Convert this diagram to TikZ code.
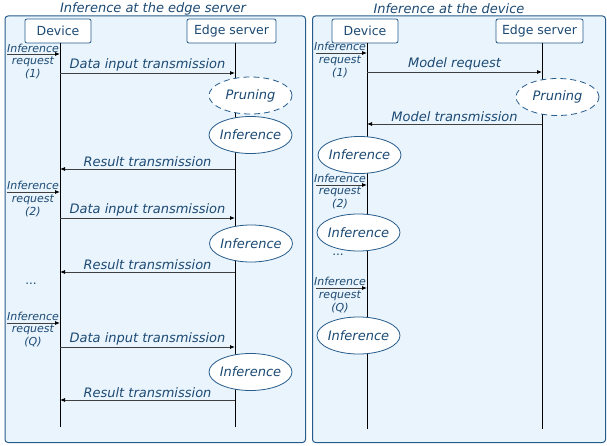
\documentclass[tikz,border=0pt]{standalone}
\usepackage{fontspec}
\setmainfont{DejaVu Sans}
\usetikzlibrary{shapes.geometric,arrows.meta}
\definecolor{panelfill}{RGB}{234,244,252}
\definecolor{paneldraw}{RGB}{38,92,140}
\definecolor{txtblue}{RGB}{28,74,116}
\definecolor{msgline}{RGB}{64,64,64}
\tikzset{
  panel/.style={draw=paneldraw, fill=panelfill, line width=1pt, rounded corners=3pt},
  title/.style={font=\fontsize{13}{15}\selectfont\itshape, text=txtblue, inner sep=0pt},
  actor/.style={draw=paneldraw, fill=white, line width=0.8pt, rounded corners=2pt, minimum height=24pt, inner sep=0pt, font=\fontsize{12.5}{14}\selectfont, text=txtblue},
  lifeline/.style={draw=black, line width=0.8pt},
  task/.style={ellipse, draw=paneldraw, fill=white, line width=0.8pt, minimum width=83pt, minimum height=37pt, inner sep=0pt, font=\fontsize{13}{15}\selectfont\itshape, text=txtblue},
  optask/.style={task, dash pattern=on 6pt off 4pt},
  msg/.style={draw=msgline, line width=0.8pt, -{Latex[length=5pt,width=4pt,color=black]}},
  msglabel/.style={font=\fontsize{13}{15}\selectfont\itshape, text=txtblue, inner sep=1.5pt, anchor=south},
  reqlabel/.style={font=\fontsize{11}{12.8}\selectfont\itshape, text=txtblue, align=center, inner sep=0pt},
  dots/.style={font=\fontsize{12}{14}\selectfont, text=txtblue, inner sep=0pt}
}
\begin{document}
\begin{tikzpicture}[x=1pt,y=-1pt]
\useasboundingbox (0,0) rectangle (607,446);
% panels
\draw[panel] (5,16) rectangle (305.5,442.5);
\draw[panel] (312.5,16) rectangle (605.5,442.5);
\node[title] (t1) at (153,9) {Inference at the edge server};
\node[title] (t2) at (449,9) {Inference at the device};

% ===== Left panel =====
\node[actor, minimum width=66pt] (LD) at (58,31) {Device};
\node[actor, minimum width=89pt] (LE) at (231.5,31) {Edge server};
\coordinate (LDt) at (60,43); \coordinate (LDb) at (60,427);
\coordinate (LEt) at (235,43); \coordinate (LEb) at (235,427);
\draw[lifeline] (LDt) -- (LDb);
\draw[lifeline] (LEt) -- (LEb);

\node[optask] (LP) at (250.5,95.5) {\makebox[0pt]{Pruning}};
\node[task] (LI1) at (250.5,135) {\makebox[0pt]{Inference}};
\node[task] (LI2) at (251,243.5) {\makebox[0pt]{Inference}};
\node[task] (LI3) at (250.5,372) {\makebox[0pt]{Inference}};

% request 1
\coordinate (Lr1s) at (7,54); \coordinate (Lr1e) at (60,54);
\node[reqlabel] (Lq1) at (33,61.5) {Inference\\request\\(1)};
\draw[msg] (Lr1s) -- (Lr1e);
\coordinate (La1s) at (60,73); \coordinate (La1e) at (235,73);
\draw[msg] (La1s) -- node[msglabel] {Data input transmission} (La1e);
\coordinate (Lb1s) at (235,169); \coordinate (Lb1e) at (60,169);
\draw[msg] (Lb1s) -- node[msglabel] {Result transmission} (Lb1e);
% request 2
\coordinate (Lr2s) at (7,192); \coordinate (Lr2e) at (60,192);
\node[reqlabel] (Lq2) at (33,199) {Inference\\request\\(2)};
\draw[msg] (Lr2s) -- (Lr2e);
\coordinate (La2s) at (60,218); \coordinate (La2e) at (235,218);
\draw[msg] (La2s) -- node[msglabel] {Data input transmission} (La2e);
\coordinate (Lb2s) at (235,272); \coordinate (Lb2e) at (60,272);
\draw[msg] (Lb2s) -- node[msglabel] {Result transmission} (Lb2e);
\node[dots] (Ldots) at (31,284) {...};
% request Q
\coordinate (Lr3s) at (7,323); \coordinate (Lr3e) at (60,323);
\node[reqlabel] (Lq3) at (33,329.5) {Inference\\request\\(Q)};
\draw[msg] (Lr3s) -- (Lr3e);
\coordinate (La3s) at (60,347); \coordinate (La3e) at (235,347);
\draw[msg] (La3s) -- node[msglabel] {Data input transmission} (La3e);
\coordinate (Lb3s) at (235,400); \coordinate (Lb3e) at (60,400);
\draw[msg] (Lb3s) -- node[msglabel] {Result transmission} (Lb3e);

% ===== Right panel =====
\node[actor, minimum width=66pt] (RD) at (365,31) {Device};
\node[actor, minimum width=87pt] (RE) at (539.5,31) {Edge server};
\coordinate (RDt) at (367,43); \coordinate (RDb) at (367,429);
\coordinate (REt) at (542,43); \coordinate (REb) at (542,429);
\draw[lifeline] (RDt) -- (RDb);
\draw[lifeline] (REt) -- (REb);

\node[optask] (RP) at (557.5,97) {\makebox[0pt]{Pruning}};
\node[task] (RI1) at (359.5,155) {\makebox[0pt]{Inference}};
\node[task] (RI2) at (358.5,232.5) {\makebox[0pt]{Inference}};
\node[task] (RI3) at (358.5,335.5) {\makebox[0pt]{Inference}};

\coordinate (Rr1s) at (316,53); \coordinate (Rr1e) at (367,53);
\node[reqlabel] (Rq1) at (340,60) {Inference\\request\\(1)};
\draw[msg] (Rr1s) -- (Rr1e);
\coordinate (Rm1s) at (367,72); \coordinate (Rm1e) at (542,72);
\draw[msg] (Rm1s) -- node[msglabel] {Model request} (Rm1e);
\coordinate (Rm2s) at (542,124); \coordinate (Rm2e) at (367,124);
\draw[msg] (Rm2s) -- node[msglabel] {Model transmission} (Rm2e);

\coordinate (Rr2s) at (316,185); \coordinate (Rr2e) at (367,185);
\node[reqlabel] (Rq2) at (340,191.5) {Inference\\request\\(2)};
\draw[msg] (Rr2s) -- (Rr2e);
\node[dots] (Rdots) at (338,255) {...};
\coordinate (Rr3s) at (316,288); \coordinate (Rr3e) at (367,288);
\node[reqlabel] (Rq3) at (340,295) {Inference\\request\\(Q)};
\draw[msg] (Rr3s) -- (Rr3e);
\end{tikzpicture}
\end{document}
